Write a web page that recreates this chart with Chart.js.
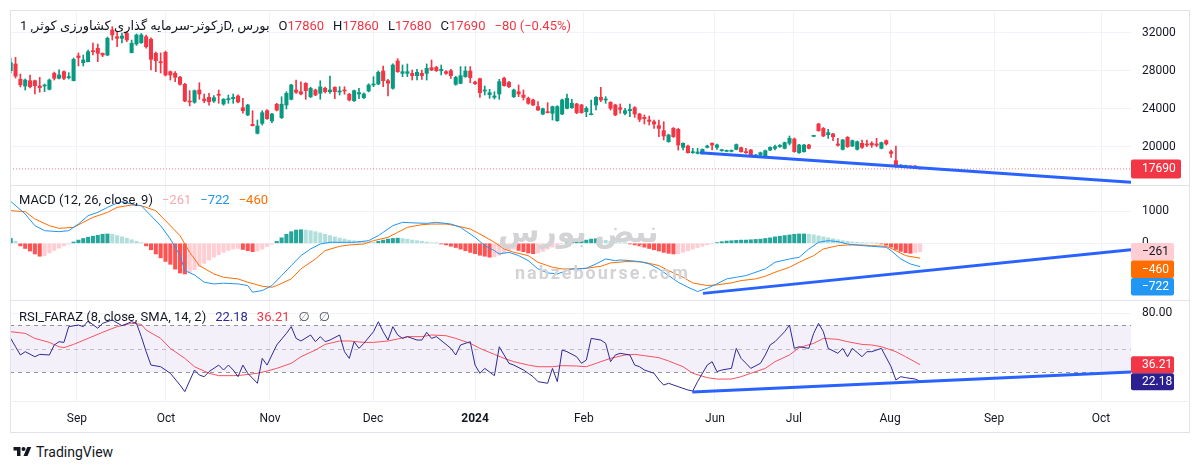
<!DOCTYPE html>
<html><head><meta charset="utf-8">
<script src="https://cdn.jsdelivr.net/npm/chart.js@4.4.1/dist/chart.umd.min.js"></script>
<style>
html,body{margin:0;padding:0;background:#fff;}
body{width:1200px;height:470px;position:relative;overflow:hidden;font-family:Roboto,"DejaVu Sans",sans-serif;color:#131722;}
.pane{position:absolute;left:0;width:1200px;}
.frame{position:absolute;left:10px;top:10px;width:1178px;height:421px;border:1px solid #e0e3eb;pointer-events:none;}
.sep{position:absolute;left:10px;width:1180px;height:1px;background:#e0e3eb;}
.legend{position:absolute;left:19px;font-size:13px;white-space:nowrap;line-height:16px;z-index:5;}
.gap{margin-left:9px;}
.wm{position:absolute;color:#d3d3d6;font-weight:bold;white-space:nowrap;z-index:1;}
#tv{position:absolute;left:12px;top:444px;font-size:14px;display:flex;align-items:center;gap:3px;color:#131722;}
</style></head><body>

<div class="wm" style="left:498px;top:214px;font-size:30px;">نبض بورس</div>
<div class="wm" style="left:515px;top:262px;font-size:18px;letter-spacing:2px;">nabzebourse.com</div>

<div id="p1" class="pane" style="top:12px;height:173px"><canvas id="c1"></canvas></div>
<div id="p2" class="pane" style="top:186px;height:114px"><canvas id="c2"></canvas></div>
<div id="p3" class="pane" style="top:301px;height:131px"><canvas id="c3"></canvas></div>

<div class="frame"></div>
<div class="sep" style="top:185px"></div>
<div class="sep" style="top:300px"></div>
<div class="sep" style="top:401px;background:#eef0f4"></div>

<div id="hdr" class="legend" style="left:20px;top:18px"></div>
<div id="lgMacd" class="legend" style="top:192px"></div>
<div id="lgRsi" class="legend" style="top:309px"></div>

<div id="tv"><svg width="21" height="14" viewBox="0 0 36 28"><path d="M14 22H7V11H0V4h14v18z" fill="#131722"/><circle cx="20" cy="8" r="4" fill="#131722"/><path d="M28 22h-8l7.5-18h8L28 22z" fill="#131722"/></svg><span>TradingView</span></div>

<script>
// ---------------- DATA ----------------
const symbolTitle = 'زکوثر-سرمایه گذاری کشاورزی کوثر, 1D, بورس';

const opens = [
28030,28740,27130,26420,26980,26980,26420,26420,26070,27760,
27230,27930,27290,26980,29580,28870,28980,30140,30390,29860,
29680,32320,31610,31440,31970,29930,30840,30980,31610,31340,
29860,28980,29970,27930,27760,27340,26600,24840,24710,26000,
25050,25230,24840,25550,24530,24980,25090,25370,24140,23370,
22390,21440,22490,23820,22740,24500,23080,24420,25020,26000,
25820,26710,25290,26000,25650,26180,25820,26280,25790,26000,
25550,24870,25580,25190,25900,26530,26630,28000,26980,26180,
29050,27750,27750,27750,27510,27750,27750,28350,28380,28030,
27930,28030,26600,26700,27400,28000,26840,27190,25890,25510,
25230,25580,27230,26800,25300,25820,25470,25120,24950,24250,
23470,23720,23540,22770,23470,24070,24140,24530,24420,23720,
23400,24420,25230,24950,24700,24420,24140,23540,23820,24140,
23470,23120,22840,22660,22250,21720,20560,21960,21860,19960,
20100,19400,19330,19330,19960,20390,19960,19610,19540,19540,
19750,19930,19510,19680,19050,19160,18980,19680,19860,20030,
19860,20390,20840,19400,19510,20210,21120,22420,21960,21300,
21370,20320,19750,21020,20100,19750,20390,20320,20390,20320,
19860,20670,19510,18560,17930,17930,17990,17990,17860];

const highs = [
29370,29440,27680,27160,27580,27050,27340,26630,27160,27890,
28110,28030,27820,29370,29900,29680,30210,30950,30840,29900,
31580,32660,32140,32000,32100,31260,31900,31950,31790,31500,
30000,29900,30100,28000,27930,27450,26700,25930,26000,26770,
25580,25650,25400,26000,25100,25470,25580,25500,25130,24500,
23820,22840,23820,23950,23550,24600,25290,25820,26600,27050,
26870,26770,26300,26100,26980,26300,27470,26350,26350,26350,
25650,26000,26180,25700,26650,27400,28000,28530,27130,28750,
29300,28630,28740,28100,28170,28100,28740,29160,28500,28630,
28050,28170,27450,28460,28460,28460,26950,27250,26420,26070,
25820,27120,27350,26900,26100,26530,26000,25250,25050,24770,
24100,24670,24300,24350,25050,25580,25020,24600,24500,24250,
24950,25300,26280,25300,24770,24500,24530,24070,24530,24250,
23550,23370,23260,22840,22840,22660,21350,22050,21950,20450,
20200,19860,19860,19800,20200,20450,20320,19750,19680,19700,
20320,20000,19860,19750,19230,19470,19680,20030,20210,20250,
20520,21160,20950,20280,20280,20280,21230,22500,22050,21860,
21450,20910,20800,21100,20740,20630,20740,20740,20560,20910,
20520,20740,19680,20100,18150,18100,18050,18050,17860];

const lows = [
27790,27260,26320,26000,26210,25580,25760,25820,26000,27050,
27160,27100,27160,26950,28530,28530,28950,29680,28980,29500,
29600,31260,30560,30950,31100,29900,30700,30900,30400,28110,
27930,27790,27470,27050,26870,26500,24760,24320,24600,25020,
24660,24390,24700,24600,24400,24600,24600,24650,23550,23300,
22210,21370,22310,22900,22560,23800,23000,24000,24950,25650,
25470,25020,25200,25400,25020,25700,25650,25090,25470,25550,
24850,24800,25090,25100,25800,26350,26550,26350,25370,26100,
27850,27400,27400,27050,27050,27120,27050,28050,27950,27580,
27650,27230,26500,26650,27330,26770,26550,25230,25470,25120,
25050,25020,26400,26250,25200,25300,24950,24500,24350,23850,
23400,23580,22840,22700,23400,24000,24070,23500,23550,23190,
23370,23890,24770,24600,23890,23300,23540,23370,23190,23120,
22660,22420,22310,21960,21090,20740,20500,21000,19680,19680,
19350,19330,19260,19260,19900,19680,19750,19550,19500,19480,
19700,19450,19330,19100,19000,19100,18950,19610,19680,19960,
19800,20210,19450,19330,19450,19800,21090,21650,21090,20910,
20670,20100,19680,19960,20030,19680,19860,20030,19960,20030,
19800,20210,18910,17860,17880,17880,17800,17750,17680];

const closes = [
28870,27470,26530,27050,26350,26450,26240,26530,27050,27230,
27580,27230,27400,29230,29420,29160,30030,30030,29860,29680,
31440,31790,31440,31680,31260,30920,31790,31790,30560,29230,
29080,28870,27580,27580,27340,26600,24840,24740,25930,25580,
24870,24770,25190,25440,25020,25090,25230,24740,23820,24420,
22240,22210,23610,22980,23470,23890,24500,25650,26530,25760,
25580,25930,26180,25470,26320,25820,26000,25820,25900,25900,
24950,25930,25720,25580,26530,26630,27860,26980,26710,28630,
27930,27930,27930,27510,27860,27510,28280,28100,28030,28170,
27750,27510,27330,27510,28000,27300,26670,25720,26000,25720,
25370,26880,26460,26350,26000,25580,25230,24600,24420,23890,
24030,23610,24250,24250,24950,25120,24600,23610,23610,24070,
23470,25230,24950,25050,24070,23370,23960,23820,23960,23470,
22910,22980,22700,22420,21960,21160,21260,21090,20210,20390,
19400,19510,19470,19750,20100,20210,20210,19680,19610,19610,
20250,19510,19400,19160,19160,19400,19610,19960,20030,20180,
20460,20910,19510,20210,20210,19860,21190,21720,21160,21510,
21090,20180,20740,20030,20670,20560,19960,20210,20210,20180,
20460,20320,19330,17930,18100,18030,17860,17770,17690];

// MACD (12,26,9): line key points (bar index, value)
const macdT = [0,3,5,7,10,12,14,16,18,20,22,23,25,27,29,31,33,35,36,38,40,42,44,47,49,50,52,54,56,58,60,62,64,66,69,71,74,76,77,79,81,84,86,88,91,93,96,98,100,101,103,105,107,109,111,113,116,117,119,121,123,125,126,128,130,132,134,136,138,140,142,144,146,148,150,152,153,156,158,161,163,165,167,169,171,173,176,178,181,182,184,186,188];
const macdV = [1300,907,546,391,360,391,597,855,958,1112,1246,1287,1215,1164,855,546,134,-381,-845,-979,-1205,-1257,-1236,-1257,-1308,-1514,-1462,-1308,-999,-690,-381,-175,-21,31,31,31,82,237,340,546,649,628,618,649,597,494,185,-72,-227,-330,-278,-381,-536,-793,-917,-948,-793,-793,-773,-639,-484,-536,-515,-536,-567,-639,-793,-999,-1205,-1360,-1493,-1390,-1257,-1102,-1051,-999,-948,-793,-587,-484,-433,-175,31,82,51,-21,-72,-93,-124,-227,-484,-640,-722];
const signalT = [0,3,5,8,10,13,15,17,20,22,25,27,30,32,35,37,39,42,44,47,49,52,54,55,58,60,63,65,68,70,73,75,78,80,82,85,87,90,92,95,97,100,102,104,107,109,112,114,117,119,122,124,127,129,131,134,136,139,141,144,146,149,151,154,156,158,161,163,166,168,171,173,176,178,181,183,185,188];
const signalV = [1010,979,752,546,464,494,649,803,958,1112,1185,1164,1009,700,237,-278,-690,-948,-1051,-1102,-1205,-1329,-1360,-1308,-1102,-793,-484,-227,-93,-51,-21,82,185,340,494,577,597,597,546,443,288,31,-175,-278,-381,-587,-742,-793,-793,-773,-711,-608,-567,-567,-587,-690,-845,-1051,-1226,-1308,-1287,-1226,-1154,-1102,-1020,-897,-742,-587,-381,-175,-72,-51,-51,-72,-93,-227,-381,-460];
const hist = [
150,60,-80,-160,-240,-330,-400,-380,-300,-220,-150,-80,
-20,40,100,150,190,220,250,280,290,280,240,200,160,110,60,20,
-80,-200,-330,-450,-560,-650,-800,-920,-950,-900,-820,-720,-620,-520,-430,-350,-280,-220,-180,-160,-190,-230,-260,-240,-180,-100,-30,
60,170,280,360,410,420,410,390,360,320,280,240,200,160,130,100,80,60,50,40,30,
60,100,130,150,160,150,130,100,80,60,40,20,5,
-20,-50,-90,-130,-180,-230,-280,-320,-370,-400,-430,-420,-370,-300,-220,-180,-220,-260,-300,-320,-300,-250,-180,-120,-60,-20,
10,30,50,70,100,130,140,120,90,60,40,20,5,
-20,-50,-80,-120,-160,-200,-240,-280,-310,-330,-320,-280,-230,-180,-130,-90,-50,-20,
20,50,70,80,90,100,100,110,120,130,150,170,200,220,240,260,280,290,290,280,260,230,200,170,140,110,80,60,40,30,20,15,10,5,
-20,-60,-120,-190,-250,-290,-310,-295,-261];

// RSI_FARAZ (8) and its SMA(14), key points (bar index, value)
const rsiT = [0,1,2,3,5,6,8,9,10,11,12,14,15,16,18,19,21,23,25,26,27,28,29,31,33,35,36,38,39,40,41,43,44,45,46,47,48,49,51,52,53,54,55,57,58,59,60,62,63,64,65,66,68,69,70,71,72,73,75,76,77,78,79,80,81,82,84,85,86,87,88,90,91,92,93,95,96,97,98,100,101,102,103,104,106,107,108,109,111,112,113,114,115,117,118,119,120,122,123,124,125,126,128,129,130,131,133,134,135,136,138,139,140,141,142,144,145,146,147,149,150,151,152,153,155,156,157,158,160,161,162,163,165,166,167,168,169,171,172,173,174,176,177,178,179,180,182,183,184,185,187,188];
const rsiV = [58.6,51.5,44.5,47.3,43.0,45.0,44.5,53.0,55.8,55.2,68.6,70.0,68.6,73.4,67.2,71.4,74.3,69.4,72.8,71.4,60.1,47.3,35.9,34.5,28.9,18.9,13.3,31.7,27.4,26.0,30.3,35.9,31.7,35.9,31.7,26.0,35.9,28.9,20.4,41.6,35.9,44.5,53.0,62.9,68.6,58.6,56.4,61.5,55.8,60.1,55.8,57.2,61.5,47.3,41.6,55.8,50.1,54.4,64.3,72.8,64.3,57.2,68.6,61.5,58.6,60.1,57.2,57.2,63.8,58.6,60.1,53.5,50.1,44.5,53.0,55.8,35.9,28.9,33.1,26.9,51.5,44.5,37.4,35.9,31.7,28.9,26.0,21.8,20.4,33.1,21.8,48.7,47.3,43.0,37.4,40.2,58.6,57.2,54.4,38.8,44.5,45.9,44.5,35.9,34.5,31.7,28.9,23.2,18.9,20.4,17.5,16.1,14.7,13.8,21.8,35.9,38.8,30.3,31.7,33.1,50.1,41.6,37.4,33.1,37.4,44.5,53.0,55.8,64.3,70.0,50.1,51.5,50.1,62.9,71.4,64.3,50.1,45.9,50.1,43.0,50.1,43.0,47.3,47.3,48.7,50.1,34.5,23.2,26.0,25.2,24.0,22.18];
const maT = [0,3,5,8,10,11,13,16,19,22,25,27,28,31,33,36,38,41,43,46,48,51,53,55,58,60,63,65,68,70,73,75,78,80,82,85,87,90,92,95,97,100,102,104,107,109,112,114,117,119,122,124,127,129,131,134,136,139,141,144,146,149,151,153,156,158,161,163,166,168,171,173,176,178,180,183,185,188];
const maV = [64.3,62.9,58.6,55.2,51.5,50.7,53.5,58.6,63.8,68.6,71.4,70.6,65.7,58.6,50.1,41.6,34.5,28.9,26.9,26.9,27.4,28.9,30.8,33.1,37.4,43.0,48.7,53.5,56.4,56.4,55.2,55.2,56.4,58.1,60.1,60.1,61.5,60.9,58.6,54.4,50.1,45.0,41.6,38.8,35.9,34.5,34.5,35.4,35.1,34.5,38.8,41.6,44.5,45.0,43.9,42.2,39.4,34.5,28.9,25.2,24.0,24.0,26.0,28.9,33.1,38.8,44.5,50.7,54.4,58.6,57.8,55.8,53.5,53.0,51.5,47.3,43.0,36.21];
const rsiBands = [70, 50, 30];

// drawn trend lines (bar index, value)
const trendT = [142.5, 231.6], trendPrice = [19400, 16300];
const macdTrendT = [143.1, 231.6], macdTrendV = [-1550, -200];
const rsiTrendT = [140.9, 231.6], rsiTrendV = [13.0, 30.0];

// axes
const monthPos = [13.7, 32.1, 53.6, 74.9, 96.0, 118.5, 145.6, 161.9, 181.8, 203.3, 225.4];
const monthLabels = ['Sep','Oct','Nov','Dec','2024','Feb','Jun','Jul','Aug','Sep','Oct'];
const priceTicks = [20000, 24000, 28000, 32000];
const macdTicks = [0, 1000];
const rsiTicks = [80];

// ---------------- RENDER ----------------
const X_MIN = -0.145, X_MAX = 231.6;
const UP = '#089981', DN = '#f23645', BLUE = '#2962ff';
const FONT = 'Roboto, "Noto Sans", sans-serif';
const N = closes.length, last = N - 1;
const minus = v => (v < 0 ? '\u2212' : '') + Math.abs(v);
const pts = (T, V) => T.map((t, i) => ({x: t, y: V[i]}));

const base = {
  animation: false, responsive: true, maintainAspectRatio: false, events: [],
  plugins: {legend: {display: false}, tooltip: {enabled: false}},
  layout: {padding: {left: 10, right: 11, top: 0, bottom: 0}},
  elements: {point: {radius: 0}, line: {tension: 0}}
};

function xAxis(show) {
  return {
    type: 'linear', min: X_MIN, max: X_MAX, offset: false,
    grid: {color: '#f0f3fa', drawTicks: false, offset: false},
    border: {display: false},
    afterBuildTicks: s => { s.ticks = monthPos.map(v => ({value: v})); },
    ticks: {
      display: show, autoSkip: false, maxRotation: 0, padding: 11, color: '#131722',
      font: c => ({family: FONT, size: 12, weight: monthLabels[c.index] === '2024' ? 'bold' : 'normal'}),
      callback: (v, i) => monthLabels[i]
    },
    afterFit: s => { s.height = show ? 31 : 0; s.paddingLeft = 0; s.paddingRight = 0; }
  };
}
function yAxis(min, max, ticks, fmt) {
  return {
    type: 'linear', position: 'right', min, max,
    grid: {color: '#f0f3fa', drawTicks: false},
    border: {display: false},
    afterBuildTicks: s => { s.ticks = ticks.map(v => ({value: v})); },
    ticks: {color: '#131722', padding: 11, font: {family: FONT, size: 12}, callback: fmt, crossAlign: 'near'},
    afterFit: s => { s.width = 58; s.paddingTop = 0; s.paddingBottom = 0; }
  };
}
function valueLabels(id, items, w, h) {
  return {id, afterDraw(chart) {
    const ys = chart.scales.y, ctx = chart.ctx, x0 = chart.chartArea.right;
    const list = items.map(it => Object.assign({py: ys.getPixelForValue(it.value)}, it)).sort((a, b) => a.py - b.py);
    let prev = -1e9;
    ctx.save();
    ctx.font = '12px ' + FONT; ctx.textBaseline = 'middle'; ctx.textAlign = 'left';
    for (const it of list) {
      const top = Math.max(it.py - h / 2, prev);
      prev = top + h;
      ctx.fillStyle = it.bg;
      ctx.beginPath(); ctx.roundRect(x0, top, w, h, 2); ctx.fill();
      ctx.fillStyle = it.fg;
      ctx.fillText(it.text, x0 + 11, top + h / 2 + 0.5);
    }
    ctx.restore();
  }};
}

// main price pane
new Chart(document.getElementById('c1'), {
  type: 'bar',
  data: {datasets: [
    {type: 'line', data: pts(trendT, trendPrice), borderColor: BLUE, borderWidth: 3, order: 0},
    {type: 'line', data: [{x: X_MIN, y: closes[last]}, {x: X_MAX, y: closes[last]}], borderColor: 'rgba(242,54,69,0.65)', borderWidth: 1, borderDash: [1, 2], order: 1},
    {type: 'bar', data: closes.map((c, i) => ({x: i, y: [opens[i], c]})), backgroundColor: closes.map((c, i) => c >= opens[i] ? UP : DN), barThickness: 3.4, minBarLength: 1, grouped: false, order: 2},
    {type: 'bar', data: closes.map((c, i) => ({x: i, y: [lows[i], highs[i]]})), backgroundColor: closes.map((c, i) => c >= opens[i] ? UP : DN), barThickness: 1, grouped: false, order: 3}
  ]},
  options: Object.assign({}, base, {scales: {x: xAxis(false), y: yAxis(16000, 34210, priceTicks, v => String(v))}}),
  plugins: [valueLabels('lbl1', [{value: closes[last], text: String(closes[last]), bg: DN, fg: '#fff'}], 50, 19)]
});

// MACD pane
const histColor = hist.map((h, i) => {
  const p = i > 0 ? hist[i - 1] : h;
  return h >= 0 ? (h >= p ? '#26a69a' : '#b2dfdb') : (h <= p ? '#ff5252' : '#ffcdd2');
});
new Chart(document.getElementById('c2'), {
  type: 'bar',
  data: {datasets: [
    {type: 'line', data: pts(macdTrendT, macdTrendV), borderColor: BLUE, borderWidth: 3, order: 0},
    {type: 'line', data: pts(macdT, macdV), borderColor: '#2196f3', borderWidth: 1, order: 1},
    {type: 'line', data: pts(signalT, signalV), borderColor: '#ff6d00', borderWidth: 1, order: 1},
    {type: 'bar', data: hist.map((h, i) => ({x: i, y: h})), backgroundColor: histColor, barThickness: 3.4, grouped: false, order: 2}
  ]},
  options: Object.assign({}, base, {scales: {x: xAxis(false), y: yAxis(-1755, 1774, macdTicks, v => String(v))}}),
  plugins: [valueLabels('lbl2', [
    {value: hist[last], text: minus(hist[last]), bg: '#ffcdd2', fg: '#131722'},
    {value: signalV[signalV.length - 1], text: minus(signalV[signalV.length - 1]), bg: '#ff6d00', fg: '#fff'},
    {value: macdV[macdV.length - 1], text: minus(macdV[macdV.length - 1]), bg: '#2196f3', fg: '#fff'}
  ], 43, 17.5)]
});

// RSI pane
const bandPlugin = {id: 'band', beforeDatasetsDraw(chart) {
  const ys = chart.scales.y, a = chart.chartArea, ctx = chart.ctx;
  const top = ys.getPixelForValue(rsiBands[0]), bot = ys.getPixelForValue(rsiBands[2]);
  ctx.save();
  ctx.fillStyle = 'rgba(126,87,194,0.09)';
  ctx.fillRect(a.left, top, a.right - a.left, bot - top);
  ctx.lineWidth = 1; ctx.setLineDash([4, 4]);
  rsiBands.forEach((b, k) => {
    const y = Math.round(ys.getPixelForValue(b)) + 0.5;
    ctx.strokeStyle = k === 1 ? 'rgba(120,123,134,0.45)' : 'rgba(120,123,134,0.8)';
    ctx.beginPath(); ctx.moveTo(a.left, y); ctx.lineTo(a.right, y); ctx.stroke();
  });
  ctx.restore();
}};
new Chart(document.getElementById('c3'), {
  type: 'line',
  data: {datasets: [
    {data: pts(rsiTrendT, rsiTrendV), borderColor: BLUE, borderWidth: 3, order: 0},
    {data: pts(rsiT, rsiV), borderColor: '#2f2a94', borderWidth: 1, order: 1},
    {data: pts(maT, maV), borderColor: '#f7525f', borderWidth: 1, order: 2}
  ]},
  options: Object.assign({}, base, {scales: {x: xAxis(true), y: yAxis(5.32, 90.43, rsiTicks, v => v.toFixed(2))}}),
  plugins: [bandPlugin, valueLabels('lbl3', [
    {value: maV[maV.length - 1], text: maV[maV.length - 1].toFixed(2), bg: '#f23645', fg: '#fff'},
    {value: rsiV[rsiV.length - 1], text: rsiV[rsiV.length - 1].toFixed(2), bg: '#2c1f8f', fg: '#fff'}
  ], 43, 17)]
});

// legends
const chg = closes[last] - closes[last - 1];
const pct = (chg / closes[last - 1] * 100).toFixed(2);
const R = '#f23645';
document.getElementById('hdr').innerHTML =
  '<span>' + symbolTitle + '</span>' +
  '<span class="gap">O<span style="color:' + R + '">' + opens[last] + '</span></span>' +
  '<span class="gap">H<span style="color:' + R + '">' + highs[last] + '</span></span>' +
  '<span class="gap">L<span style="color:' + R + '">' + lows[last] + '</span></span>' +
  '<span class="gap">C<span style="color:' + R + '">' + closes[last] + '</span></span>' +
  '<span class="gap" style="color:' + R + '">' + minus(chg) + ' (' + minus(Number(pct)).replace(/^(\u2212?)(\d+\.?\d*)$/, '$1$2') + '%)</span>';
document.getElementById('lgMacd').innerHTML =
  'MACD (12, 26, close, 9)' +
  '<span class="gap" style="color:#f7a9b0">' + minus(hist[last]) + '</span>' +
  '<span class="gap" style="color:#2196f3">' + minus(macdV[macdV.length - 1]) + '</span>' +
  '<span class="gap" style="color:#ff6d00">' + minus(signalV[signalV.length - 1]) + '</span>';
document.getElementById('lgRsi').innerHTML =
  'RSI_FARAZ (8, close, SMA, 14, 2)' +
  '<span class="gap" style="color:#2f2a94">' + rsiV[rsiV.length - 1].toFixed(2) + '</span>' +
  '<span class="gap" style="color:#f23645">' + maV[maV.length - 1].toFixed(2) + '</span>' +
  '<span class="gap" style="color:#50535e">\u2205</span><span class="gap" style="color:#50535e">\u2205</span>';
</script>
</body></html>
